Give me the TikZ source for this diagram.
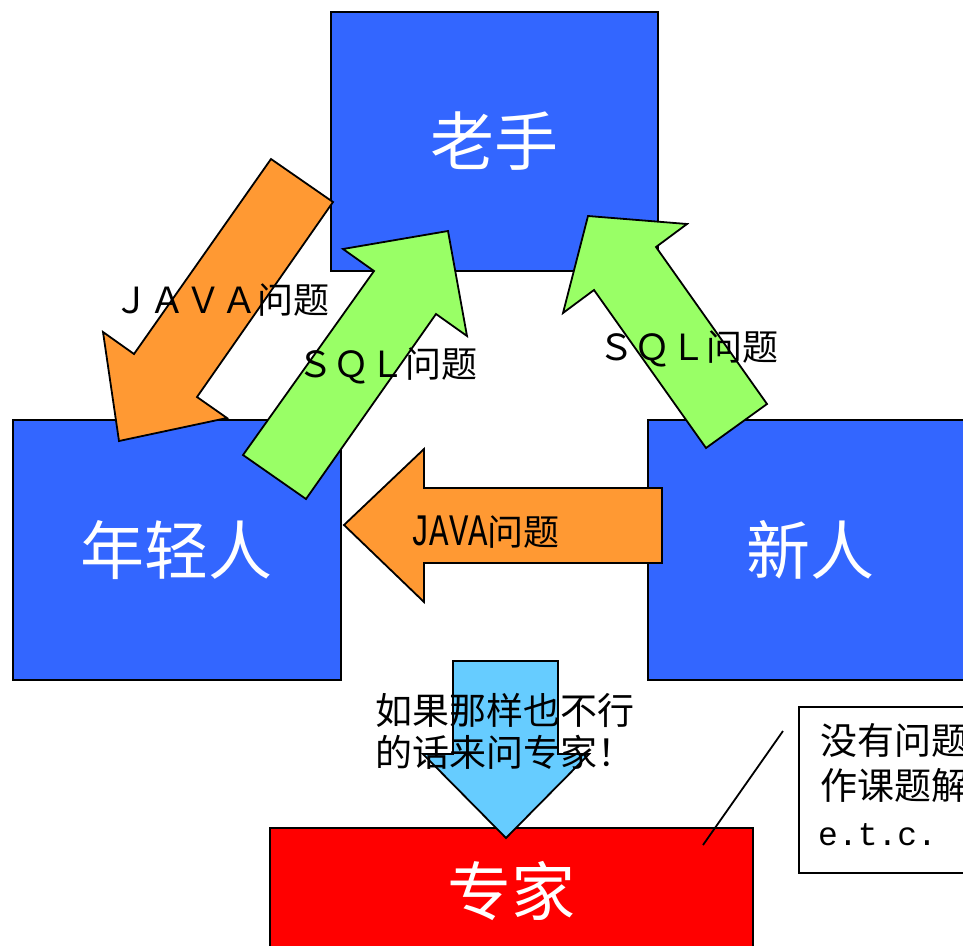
\documentclass[tikz,border=0pt]{standalone}
\usepackage{fontspec}
\usepackage{graphicx}
\newfontfamily\cjk{Noto Sans CJK SC}
\newfontfamily\monof{Liberation Mono}
\definecolor{boxblue}{HTML}{3366FF}
\definecolor{arrorange}{HTML}{FF9933}
\definecolor{arrgreen}{HTML}{99FF66}
\definecolor{arrsky}{HTML}{66CCFF}
\definecolor{boxred}{HTML}{FF0000}
\tikzset{
  bigbox/.style={draw=black, line width=1.8pt, inner sep=0pt, anchor=north west, text=white, font=\cjk\fontsize{64}{70}\selectfont},
  blockarrow/.style={draw=black, line width=1.8pt, line join=miter},
  lbl/.style={inner sep=0pt, anchor=base west, text=black, font=\cjk\fontsize{36}{40}\selectfont},
  biglbl/.style={inner sep=0pt, anchor=base west, text=black, font=\cjk\fontsize{37}{40}\selectfont},
}
\begin{document}
\begin{tikzpicture}[x=1pt,y=-1pt]
\clip (0,0) rectangle (963,945);
\fill[white] (0,0) rectangle (963,945);

% boxes
\node[bigbox, fill=boxblue, minimum width=327pt, minimum height=259pt] (laoshou) at (330,11) {老手};
\node[bigbox, fill=boxblue, minimum width=328pt, minimum height=260pt] (nianqing) at (12,419) {年轻人};
\node[bigbox, fill=boxblue, minimum width=326pt, minimum height=260pt] (xinren) at (647,419) {新人};

% orange arrow: laoshou -> nianqing (JAVA)
\draw[blockarrow, fill=arrorange] (271,159) -- (333,202) -- (197,397) -- (227,418) -- (119,441) -- (103,332) -- (134,354) -- cycle;
% green arrow: nianqing -> laoshou (SQL)
\draw[blockarrow, fill=arrgreen] (243,455) -- (306,499) -- (436,314) -- (467,336) -- (448,231) -- (343,249) -- (374,271) -- cycle;
% green arrow: xinren -> laoshou (SQL)
\draw[blockarrow, fill=arrgreen] (706,448) -- (767,404) -- (656,247) -- (687,224) -- (588,216) -- (563,313) -- (594,290) -- cycle;
% orange arrow: xinren -> nianqing (JAVA)
\draw[blockarrow, fill=arrorange] (662,488) -- (424,488) -- (424,449) -- (344,525) -- (424,602) -- (424,563) -- (662,563) -- cycle;

% labels
\node[lbl] (javalbl) at (113,313) {ＪＡＶＡ问题};
\node[lbl] (sqllbl1) at (297,377) {ＳＱＬ问题};
\node[lbl] (sqllbl2) at (598,360) {ＳＱＬ问题};
\node[lbl] (javalbl2) at (410,545) {{\monof\scalebox{0.9}[1.25]{JAVA}}问题};

% expert box
\node[bigbox, fill=boxred, minimum width=483pt, minimum height=126pt] (zhuanjia) at (269,827) {专家};

% callout
\node[draw=black, line width=1.8pt, fill=white, inner sep=0pt, anchor=north west, minimum width=200pt, minimum height=166pt] (callout) at (798,706) {};
\node[biglbl] (cl1) at (820,754) {没有问题};
\node[biglbl] (cl2) at (820,799) {作课题解};
\node[inner sep=0pt, anchor=base west, font=\monof\fontsize{33}{36}\selectfont] (cl3) at (818,845) {e.t.c.};
\coordinate (calloutend) at (783,731);
\coordinate (experttip) at (703,845);
\draw[line width=1.8pt, black] (calloutend) -- (experttip);

% sky-blue down arrow
\draw[blockarrow, fill=arrsky] (453,661) -- (558,661) -- (558,754) -- (589,754) -- (506,838) -- (423,754) -- (453,754) -- cycle;
\node[biglbl] (ask1) at (375,724) {如果那样也不行};
\node[biglbl] (ask2) at (375,766) {的话来问专家！};
\end{tikzpicture}
\end{document}
